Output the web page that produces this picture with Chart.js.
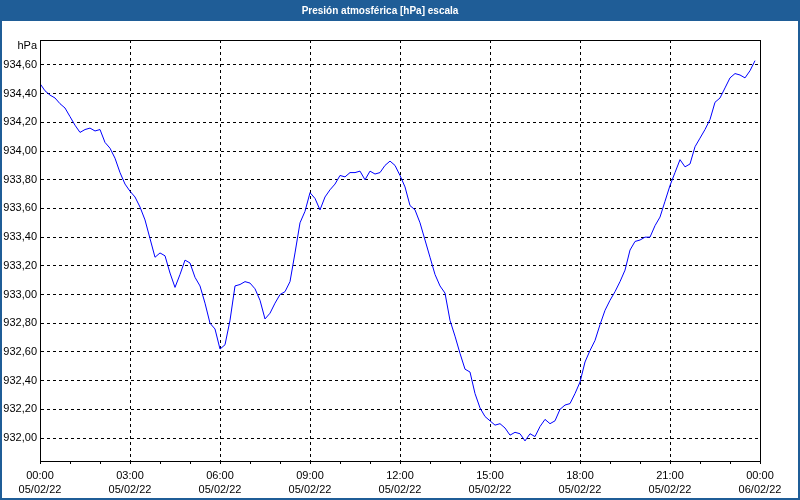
<!doctype html>
<html>
<head>
<meta charset="UTF-8">
<title>Presión atmosférica [hPa] escala</title>
<script src="https://cdn.jsdelivr.net/npm/chart.js@4.4.0/dist/chart.umd.min.js"></script>
<style>
  html, body { margin: 0; padding: 0; background: #fff; }
  #wrap { width: 800px; height: 500px; }
</style>
</head>
<body>
<div id="wrap"><canvas id="canvas" width="800" height="500"></canvas></div>
<script>
// minutes since 00:00 05/02/22, one reading every 10 min
var minutes = [
  0, 10, 20, 30, 40, 50, 60, 70, 80, 90, 100, 110,
  120, 130, 140, 150, 160, 170, 180, 190, 200, 210, 220, 230,
  240, 250, 260, 270, 280, 290, 300, 310, 320, 330, 340, 350,
  360, 370, 380, 390, 400, 410, 420, 430, 440, 450, 460, 470,
  480, 490, 500, 510, 520, 530, 540, 550, 560, 570, 580, 590,
  600, 610, 620, 630, 640, 650, 660, 670, 680, 690, 700, 710,
  720, 730, 740, 750, 760, 770, 780, 790, 800, 810, 820, 830,
  840, 850, 860, 870, 880, 890, 900, 910, 920, 930, 940, 950,
  960, 970, 980, 990, 1000, 1010, 1020, 1030, 1040, 1050, 1060, 1070,
  1080, 1090, 1100, 1110, 1120, 1130, 1140, 1150, 1160, 1170, 1180, 1190,
  1200, 1210, 1220, 1230, 1240, 1250, 1260, 1270, 1280, 1290, 1300, 1310,
  1320, 1330, 1340, 1350, 1360, 1370, 1380, 1390, 1400, 1410, 1420, 1430
];

// hPa
var presion = [
  934.47, 934.42, 934.39, 934.37, 934.33, 934.30, 934.24, 934.18, 934.13, 934.15, 934.16, 934.14,
  934.15, 934.06, 934.02, 933.95, 933.85, 933.77, 933.72, 933.68, 933.61, 933.52, 933.39, 933.26,
  933.29, 933.27, 933.15, 933.05, 933.14, 933.24, 933.22, 933.12, 933.06, 932.94, 932.80, 932.76,
  932.62, 932.65, 932.82, 933.06, 933.07, 933.09, 933.08, 933.04, 932.96, 932.83, 932.87, 932.94,
  933.00, 933.02, 933.09, 933.29, 933.50, 933.58, 933.71, 933.67, 933.59, 933.68, 933.73, 933.77,
  933.83, 933.82, 933.85, 933.85, 933.86, 933.80, 933.86, 933.84, 933.85, 933.90, 933.93, 933.90,
  933.83, 933.75, 933.62, 933.59, 933.50, 933.38, 933.26, 933.14, 933.06, 933.01, 932.82, 932.71,
  932.59, 932.48, 932.46, 932.31, 932.21, 932.15, 932.12, 932.09, 932.10, 932.07, 932.02, 932.04,
  932.03, 931.98, 932.03, 932.01, 932.08, 932.13, 932.10, 932.12, 932.20, 932.23, 932.24, 932.31,
  932.39, 932.53, 932.61, 932.68, 932.79, 932.89, 932.96, 933.02, 933.09, 933.17, 933.31, 933.37,
  933.38, 933.40, 933.40, 933.48, 933.54, 933.65, 933.76, 933.85, 933.94, 933.89, 933.91, 934.03,
  934.09, 934.15, 934.22, 934.34, 934.37, 934.44, 934.51, 934.54, 934.53, 934.51, 934.56, 934.63
];

// labels under the x axis, one pair every 3 hours
var horas = ['00:00', '03:00', '06:00', '09:00', '12:00', '15:00', '18:00', '21:00', '00:00'];
var fechas = ['05/02/22', '05/02/22', '05/02/22', '05/02/22', '05/02/22', '05/02/22', '05/02/22', '05/02/22', '06/02/22'];

var puntos = [];
for (var i = 0; i < minutes.length; i++) {
  puntos.push({ x: minutes[i], y: presion[i] });
}

// blue window frame, box round the plot and the "hPa" unit label
var marco = {
  id: 'marco',
  beforeDraw: function(chart) {
    var c = chart.ctx;
    c.save();
    c.fillStyle = '#1f5d97';
    c.fillRect(0, 0, chart.width, chart.height);
    c.fillStyle = '#ffffff';
    c.fillRect(2, 21, chart.width - 4, chart.height - 23);
    c.restore();
  },
  afterDraw: function(chart) {
    var a = chart.chartArea;
    var c = chart.ctx;
    c.save();
    c.strokeStyle = '#000';
    c.lineWidth = 1;
    c.strokeRect(Math.round(a.left) + 0.5, Math.round(a.top) + 0.5,
      Math.round(a.right - a.left), Math.round(a.bottom - a.top));
    c.font = '11px "Liberation Sans"';
    c.fillStyle = '#000';
    c.textAlign = 'right';
    c.textBaseline = 'middle';
    c.fillText('hPa', a.left - 3, a.top + 6);
    c.restore();
  }
};

var ctx = document.getElementById('canvas').getContext('2d');
window.myLine = new Chart(ctx, {
  type: 'line',
  data: {
    datasets: [{
      label: 'Presión atmosférica',
      data: puntos,
      borderColor: '#0000ff',
      borderWidth: 1,
      pointRadius: 0,
      tension: 0,
      fill: false
    }]
  },
  plugins: [marco],
  options: {
    responsive: false,
    animation: false,
    layout: { padding: { left: 0, right: 40, top: 0, bottom: 3 } },
    plugins: {
      legend: { display: false },
      tooltip: { enabled: false },
      title: {
        display: true,
        text: 'Presión atmosférica [hPa] escala',
        color: '#ffffff',
        font: { family: 'Liberation Sans', size: 10, weight: 'bold' },
        padding: { top: 5, bottom: 23 }
      }
    },
    scales: {
      x: {
        type: 'linear',
        min: 0,
        max: 1440,
        afterFit: function(scale) { scale.height = 36; },
        ticks: {
          stepSize: 60,
          autoSkip: false,
          maxRotation: 0,
          padding: 5,
          color: '#000',
          font: { family: 'Liberation Sans', size: 11, lineHeight: 1.27 },
          callback: function(v) {
            if (v % 180 !== 0) return '';
            return [horas[v / 180], fechas[v / 180]];
          }
        },
        grid: {
          color: function(c) { return (c.tick && c.tick.value % 180 === 0) ? '#000' : 'rgba(0,0,0,0)'; },
          lineWidth: 1,
          tickColor: '#000',
          tickLength: 3,
          tickWidth: 1,
          tickBorderDash: []
        },
        border: { color: '#000', width: 1, dash: [3, 3] }
      },
      y: {
        min: 931.84,
        max: 934.774,
        afterFit: function(scale) { scale.width = 40; },
        ticks: {
          stepSize: 0.2,
          includeBounds: false,
          padding: 3,
          color: '#000',
          font: { family: 'Liberation Sans', size: 11 },
          callback: function(v) { return v.toFixed(2).replace('.', ','); }
        },
        grid: { color: '#000', lineWidth: 1, drawTicks: false },
        border: { color: '#000', width: 1, dash: [3, 3] }
      }
    }
  }
});
</script>
</body>
</html>
